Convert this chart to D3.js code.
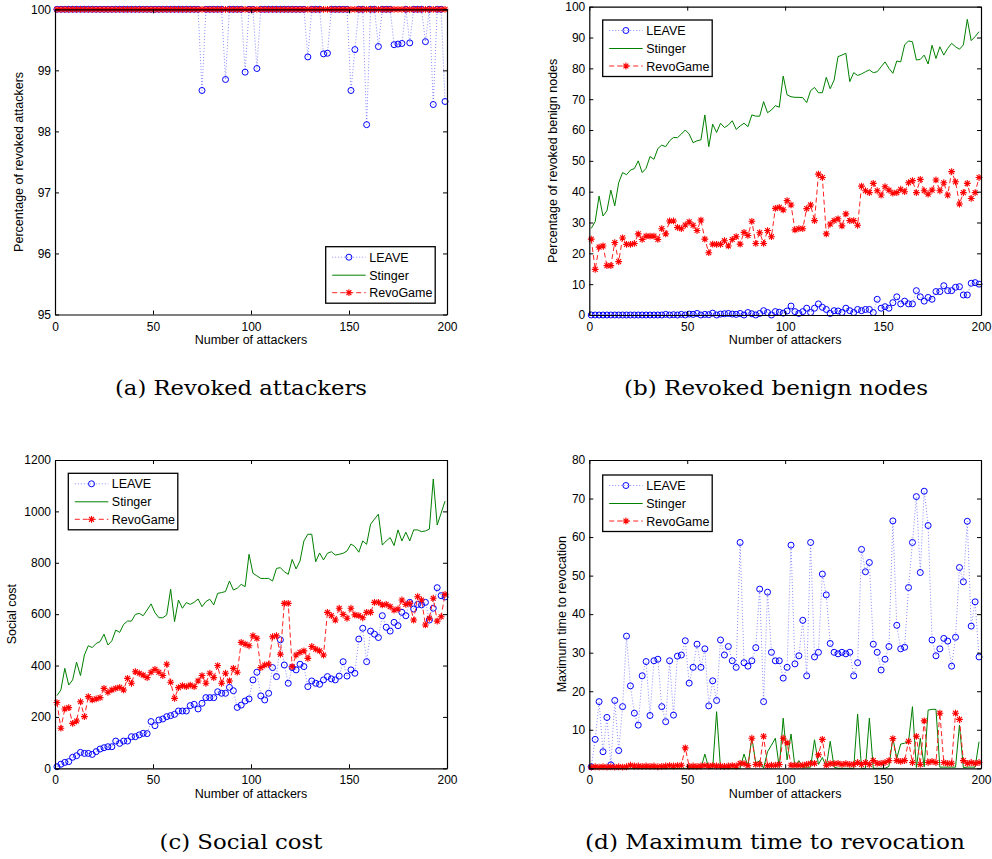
<!DOCTYPE html>
<html lang="en">
<head>
    <meta charset="UTF-8">
    <title>LEAVE vs Stinger vs RevoGame</title>
    <script src="https://cdn.jsdelivr.net/npm/d3@7/dist/d3.min.js"></script>
    <style>
        body{margin:0;background:#fff}
        text{font-family:"Liberation Sans",Arial,sans-serif}
        text.caption{font-family:"DejaVu Serif",serif}
    </style>
</head>
<body>
<div class="fig"></div>
<script>
    //data - x is the number of attackers (1,3,...,199)
    const attackers = d3.range(1, 200, 2)
    const seriesNames = ['LEAVE', 'Stinger', 'RevoGame']
    const xTicks = [0, 50, 100, 150, 200]

    // (a) revoked attackers (%)
    const attLeave = [
        100,100,100,100,100,100,100,100,100,100,
        100,100,100,100,100,100,100,100,100,100,
        100,100,100,100,100,100,100,100,100,100,
        100,100,100,100,100,100,100,98.67,100,100,
        100,100,100,98.85,100,100,100,100,98.97,100,
        100,99.03,100,100,100,100,100,100,100,100,
        100,100,100,100,99.22,100,100,100,99.27,99.28,
        100,100,100,100,100,98.67,99.34,100,100,98.11,
        100,100,99.39,100,100,100,99.42,99.43,99.44,100,
        99.45,100,100,100,99.47,100,98.44,100,100,98.49]
    const attStinger = [
        100,100,100,100,100,100,100,100,100,100,
        100,100,100,100,100,100,100,100,100,100,
        100,100,100,100,100,100,100,100,100,100,
        100,100,100,100,100,100,100,100,100,100,
        100,100,100,100,100,100,100,100,100,100,
        100,100,100,100,100,100,100,100,100,100,
        100,100,100,100,100,100,100,100,100,100,
        100,100,100,100,100,100,100,100,100,100,
        100,100,100,100,100,100,100,100,100,100,
        100,100,100,100,100,100,100,100,100,100]
    const attRevo = attStinger.slice()
    const attTicks = [95, 96, 97, 98, 99, 100]

    // (b) revoked benign nodes (%)
    const benLeave = [
        0,0,0,0,0,0,0,0,0,0,
        0,0,0,0,0,0,0,0,0,0.2,
        0,0.1,0,0.2,0,0.3,0.2,0.5,0,0.2,
        0.1,0.6,0,0.3,0.4,0.5,0.3,0.2,0.5,0,
        0.8,0.4,0,0.5,1.4,0.8,0,1.1,0.9,0.6,
        1.3,2.9,1.1,0.5,1.1,2.2,0.8,2.2,3.6,2.5,
        1.8,0.5,1.4,1.3,0.8,2.2,1.4,0.8,1.8,1.4,
        1.8,1.8,0.8,5.1,2.2,2.7,2.2,4,5.9,3.6,
        4.5,3.6,3.6,7.9,5.9,4.5,5.7,5.1,7.6,7.6,
        9.5,7.9,7.9,9,9.2,6.5,6.5,10.3,10.5,10]
    const benStinger = [
        28.1,30.3,38.6,32.1,33.8,40.5,35.4,42.9,46.2,45.5,
        47,47.5,50,46.2,47.6,51.4,50.5,54,55.1,54.6,
        56.5,57.6,57.5,58.7,60,58.7,55.9,56.5,56.8,64.9,
        54.6,61.9,59.2,62.2,60.8,61.6,63,60.2,61.3,62.2,
        61.1,64.9,64.5,64.5,69.2,65.6,66.5,67.9,67.4,77.5,
        71.4,70.8,70.6,70.6,70.5,68.9,72.8,73.8,72.1,72.1,
        77.1,73.4,76.2,83.8,84.3,84.9,75.7,78.6,77.7,78.2,
        78.9,79.5,78.6,78.9,80.5,82.1,80,78.4,82.4,82.1,
        87.6,88.9,88.6,82.7,82.9,84.3,81.4,87.5,83.2,87,
        84.3,86.5,88.1,87,86.2,87.6,95.9,89,90.3,91.9]
    const benRevo = [
        24.6,14.8,22,22.4,16,16,23.5,17.3,25,22.9,
        22.9,23.2,26.3,24.5,25.6,25.6,25.6,24.5,28,26.3,
        30.5,30.5,28.4,28,29.2,30.2,29.1,27.4,30.8,24.6,
        20.2,23,22.9,22.9,24.1,22.4,24.5,25.4,23,26.8,
        25.8,30.4,23.2,26.7,23.2,27.4,25.4,34.6,34.9,34.1,
        37.1,35.7,27.6,28,28,34.5,35.7,30.6,45.7,44.6,
        26.3,29.5,30.6,31.2,28.9,32.8,30.6,30.6,29.1,41.8,
        40.3,39.7,42.7,40.3,38.9,41.6,40.5,39.5,39.7,40.8,
        40,42.9,43.6,39.7,44,40.3,39.2,40.5,43.8,40.3,
        42.9,38.9,46.5,43.2,36,39.7,42.7,37.8,39.7,44.6]
    const benTicks = [0, 10, 20, 30, 40, 50, 60, 70, 80, 90, 100]

    // (c) social cost
    const costLeave = [
        6,16,23,26,43,49,62,58,58,54,
        65,75,80,84,84,106,97,106,106,123,
        123,130,136,135,182,166,188,192,201,205,
        210,223,223,223,244,249,231,253,275,275,
        275,298,292,292,315,302,237,246,262,270,
        344,374,282,266,292,392,357,500,402,331,
        392,383,405,396,318,340,331,327,344,357,
        348,344,359,415,359,383,370,503,545,415,
        534,522,509,594,549,534,568,555,607,594,
        646,620,638,636,646,577,623,703,672,667]
    const costStinger = [
        283,305,389,324,344,413,361,441,477,470,
        486,493,522,480,496,538,529,560,573,573,
        599,603,594,616,640,606,586,586,597,697,
        571,655,623,645,638,646,659,629,649,658,
        636,681,684,688,729,694,701,716,707,833,
        759,749,739,739,739,729,778,781,765,755,
        813,776,807,885,911,911,804,838,811,837,
        843,830,833,837,846,873,863,841,885,872,
        950,970,989,869,885,898,867,928,885,919,
        885,928,928,921,924,931,1126,947,993,1040]
    const costRevo = [
        256,156,231,236,175,184,259,201,279,266,
        270,275,311,296,305,311,315,305,350,331,
        376,370,363,353,374,385,374,361,405,335,
        272,314,322,318,324,318,340,361,331,370,
        353,400,331,370,340,389,374,490,483,477,
        516,506,392,402,405,512,516,444,642,642,
        396,441,451,457,428,474,464,457,441,607,
        594,577,623,599,584,623,597,594,586,607,
        607,646,646,636,638,629,616,620,655,638,
        642,577,668,655,558,584,662,573,590,677]
    const costTicks = [0, 200, 400, 600, 800, 1000, 1200]

    // (d) maximum time to revocation
    const timeLeave = [
        0.4,7.5,17.3,4.3,13.2,0.9,17.6,4.6,16,34.3,
        21.4,14.3,11.2,24,27.7,13.7,27.9,28.3,16,12.1,
        27.9,13.8,29.1,29.4,33.1,22.1,26.2,32.2,26.2,31,
        16.2,22.7,17.6,33.3,29.4,31.6,27.9,26.2,58.6,27.4,
        26.5,27.9,31.3,46.5,17.3,45.7,30.1,27.9,27.9,23.4,
        26.2,57.9,27.1,29.2,38.4,24,58.6,28.9,30.1,50.4,
        45,32.4,30.1,29.7,30.1,29.7,30.1,24,27.4,56.8,
        51,53.4,32.2,30.1,25.5,28.3,31.6,64.2,37.1,31,
        31.4,46.9,58.6,70.5,50.8,71.9,63,33.3,29.2,31,
        33.7,33,26.5,34,52.1,48.4,64.1,36.9,43.2,28.9]
    const timeStinger = [
        0,0,0,0,0,0,0,0,0,0,
        0,0,0,0,0,0,0,0,0,0,
        0,0,0,0,0,0,0,0,0,3.7,
        0,0,14.7,0,0,0,0,0,0,3.7,
        0.5,8,1.3,2,0,4.3,6,7.8,0.2,13,
        2.2,8.9,0.4,2,0.3,0.3,0.3,7.4,1,2.8,
        0.4,7,0.3,0,0,0,0,0,14.1,0,
        0,13,0,0,0,0,0.5,7.8,2.6,6.3,
        6.5,6.9,16,0.2,7.8,0.4,15.1,15.3,15.3,0.3,
        0.3,0.3,0.3,0.3,11.2,0.2,0.3,0.3,0.3,6.9]
    const timeRevo = [
        0.3,0.4,0.3,0.4,0.3,0.4,0.3,0.4,0.3,0.4,
        0.8,0.6,0.6,0.5,0.6,0.5,0.6,0.4,0.5,0.6,
        0.7,0.6,0.7,0.8,5.3,0.5,0.6,0.5,0.6,0.7,
        0.6,0.7,0.6,0.6,0.5,0.6,0.7,0.6,1.3,1.2,
        0.7,7.8,1,1,8.3,0.7,0.8,0.8,1,7.8,
        6.6,0.8,0.8,0.8,0.8,1,1.3,1.3,3.5,7.5,
        0.8,1.2,1.2,1.3,1,1.2,1,1,1.5,1,
        1.5,1,2,1.3,1.3,1.5,2,7.7,2,1.8,
        2,7,1.5,8.3,1,12.3,1.5,1.8,1.5,14.3,
        1.5,1.3,1.3,14.3,12.7,2,1.3,1.5,1.3,1.5]
    const timeTicks = [0, 10, 20, 30, 40, 50, 60, 70, 80]

    //styles
    const styles = {
        LEAVE: {color: '#0000ff', line: 'rgba(60,60,255,0.6)', dash: '1,2', marker: 'circle'},
        Stinger: {color: '#008000', line: '#008000', dash: null, marker: null},
        RevoGame: {color: '#ff0000', line: '#ff2020', dash: '5,3', marker: 'star'}
    }

    let svg = d3.select('.fig').append('svg').attr('width', 992).attr('height', 859)
    svg.append('rect').attr('width', 992).attr('height', 859).attr('fill', '#fff')

    function starPath(s) {
        let a = s * 0.72
        return `M${-s},0H${s}M0,${-s}V${s}M${-a},${-a}L${a},${a}M${-a},${a}L${a},${-a}`
    }

    function drawMarkers(g, pts, st) {
        if (st.marker === 'circle') {
            g.selectAll(null).data(pts).enter().append('circle')
                .attr('cx', d => d[0]).attr('cy', d => d[1]).attr('r', 3)
                .attr('fill', 'none').attr('stroke', st.color).attr('stroke-width', 1)
        } else if (st.marker === 'star') {
            g.selectAll(null).data(pts).enter().append('path')
                .attr('d', starPath(3.4)).attr('transform', d => `translate(${d[0]},${d[1]})`)
                .attr('fill', 'none').attr('stroke', st.color).attr('stroke-width', 1.1)
        }
    }

    function drawPanel(p) {
        let g = svg.append('g').attr('transform', `translate(${p.left},${p.top})`)
        let x = d3.scaleLinear().domain([0, 200]).range([0, p.w])
        let y = d3.scaleLinear().domain([p.yTicks[0], p.yTicks[p.yTicks.length - 1]]).range([p.h, 0])
        let line = d3.line().x((d, i) => x(attackers[i])).y(d => y(d))

        //series
        seriesNames.forEach((name, k) => {
            let st = styles[name]
            let vals = p.series[k]
            g.append('path').attr('d', line(vals)).attr('fill', 'none')
                .attr('stroke', st.line).attr('stroke-width', 1)
                .attr('stroke-dasharray', st.dash)
            drawMarkers(g, vals.map((v, i) => [x(attackers[i]), y(v)]), st)
        })

        //axis
        let tickFont = s => s.selectAll('text').attr('font-size', 12).attr('fill', '#000')
        let styleAxis = s => {
            s.select('.domain').attr('stroke', '#000').attr('stroke-width', 1.2)
            s.selectAll('.tick line').attr('stroke', '#000')
        }
        g.append('g').attr('transform', `translate(0,${p.h})`)
            .call(d3.axisBottom(x).tickValues(xTicks).tickFormat(d => d).tickSizeInner(-4).tickSizeOuter(0).tickPadding(7.5))
            .call(tickFont).call(styleAxis)
        g.append('g')
            .call(d3.axisTop(x).tickValues(xTicks).tickSizeInner(-4).tickSizeOuter(0).tickFormat(''))
            .call(styleAxis)
        g.append('g')
            .call(d3.axisLeft(y).tickValues(p.yTicks).tickFormat(d => d).tickSizeInner(-4).tickSizeOuter(0).tickPadding(4))
            .call(tickFont).call(styleAxis)
        g.append('g').attr('transform', `translate(${p.w},0)`)
            .call(d3.axisRight(y).tickValues(p.yTicks).tickSizeInner(-4).tickSizeOuter(0).tickFormat(''))
            .call(styleAxis)

        //labels
        g.append('text').attr('x', p.w / 2).attr('y', p.h + 29.5).attr('text-anchor', 'middle')
            .attr('font-size', 12.5).text('Number of attackers')
        g.append('text').attr('transform', `translate(${p.yLabelX},${p.h / 2}) rotate(-90)`)
            .attr('text-anchor', 'middle').attr('dy', '0.35em').attr('font-size', 12.5).text(p.yLabel)

        //legend
        let lg = g.append('g').attr('transform', `translate(${p.legend[0]},${p.legend[1]})`)
        lg.append('rect').attr('width', 109.5).attr('height', 56.5)
            .attr('fill', '#fff').attr('stroke', '#000').attr('stroke-width', 1.3)
        let rows = [10.5, 28.5, 46]
        seriesNames.forEach((name, k) => {
            let st = styles[name]
            lg.append('line').attr('x1', 6.5).attr('x2', 40).attr('y1', rows[k]).attr('y2', rows[k])
                .attr('stroke', st.line).attr('stroke-width', 1).attr('stroke-dasharray', st.dash)
            drawMarkers(lg, [[23.2, rows[k]]], st)
            lg.append('text').attr('x', 43.5).attr('y', rows[k]).attr('dy', '0.36em')
                .attr('font-size', 12.5).text(name)
        })

        //caption
        svg.append('text').attr('class', 'caption').attr('x', p.capX).attr('y', p.capY)
            .attr('text-anchor', 'middle').attr('font-size', 20)
            .attr('textLength', p.capW).attr('lengthAdjust', 'spacingAndGlyphs')
            .text(p.caption)
    }

    drawPanel({left: 55, top: 9.3, w: 392, h: 305.2, yTicks: attTicks,
        series: [attLeave, attStinger, attRevo], yLabel: 'Percentage of revoked attackers', yLabelX: -36,
        legend: [270.7, 237.4], caption: '(a) Revoked attackers', capX: 241, capY: 395, capW: 252})
    drawPanel({left: 589.3, top: 6.7, w: 391.7, h: 308.3, yTicks: benTicks,
        series: [benLeave, benStinger, benRevo], yLabel: 'Percentage of revoked benign nodes', yLabelX: -36.3,
        legend: [13.4, 13.3], caption: '(b) Revoked benign nodes', capX: 776, capY: 395, capW: 304})
    drawPanel({left: 55, top: 460, w: 392, h: 308.3, yTicks: costTicks,
        series: [costLeave, costStinger, costRevo], yLabel: 'Social cost', yLabelX: -43,
        legend: [13.3, 13.3], caption: '(c) Social cost', capX: 241, capY: 849, capW: 163})
    drawPanel({left: 589.3, top: 460, w: 391.7, h: 308.3, yTicks: timeTicks,
        series: [timeLeave, timeStinger, timeRevo], yLabel: 'Maximum time to revocation', yLabelX: -28,
        legend: [13.4, 15], caption: '(d) Maximum time to revocation', capX: 775, capY: 849, capW: 380})
</script>
</body>
</html>
